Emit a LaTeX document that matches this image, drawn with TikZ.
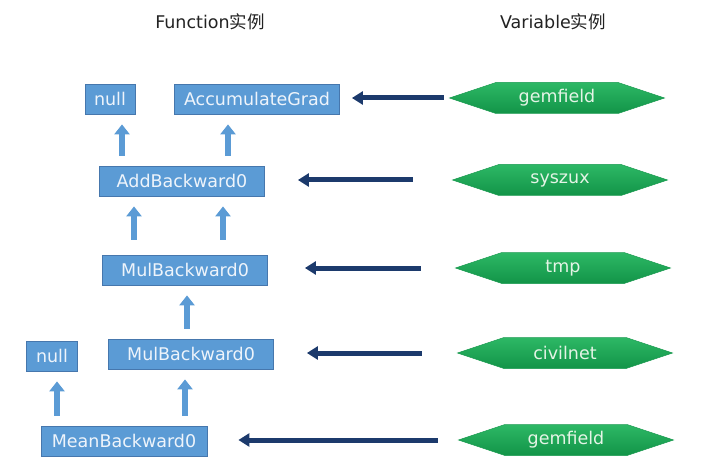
\documentclass[tikz,border=0pt]{standalone}
\usepackage{fontspec}
\setmainfont{DejaVu Sans}
\newfontfamily\cjk{Noto Sans CJK SC}
\usetikzlibrary{shapes.symbols,arrows.meta}
\definecolor{fnblue}{HTML}{5B9BD5}
\definecolor{fnedge}{HTML}{4677AD}
\definecolor{fntext}{HTML}{EEF4FB}
\definecolor{vartop}{HTML}{2DB865}
\definecolor{varbot}{HTML}{129448}
\definecolor{varedge}{HTML}{1A9A50}
\definecolor{vartext}{HTML}{E4F4E6}
\definecolor{navy}{HTML}{1C3A6C}
\definecolor{titlegray}{HTML}{222222}

\begin{document}
\begin{tikzpicture}[x=1pt,y=-1pt,
    fn/.style={shape=rectangle, fill=fnblue, draw=fnedge, line width=0.8pt, text=fntext,
        minimum height=30pt, inner sep=0pt, font=\fontsize{17.5}{20}\selectfont},
    var/.style={shape=signal, signal to=east and west, signal pointer angle=37,
        top color=vartop, bottom color=varbot, draw=varedge, line width=0.5pt,
        minimum width=215pt, minimum height=31pt, inner sep=0pt, text=vartext,
        font=\fontsize{17.5}{20}\selectfont},
    up/.style={draw=fnblue, line width=6.5pt, -{Triangle[width=15pt,length=10pt]},
        shorten <=10pt, shorten >=10pt},
    ref/.style={draw=navy, line width=5pt, -{Triangle[width=13pt,length=11pt]}}]
    \useasboundingbox (0,0) rectangle (720,473);
    \node[text=titlegray, font=\fontsize{17.5}{20}\selectfont] at (210,22) (fntitle) {Function{\cjk 实例}};
    \node[text=titlegray, font=\fontsize{17.5}{20}\selectfont] at (553,22) (vartitle) {Variable{\cjk 实例}};
    % function side
    \node[fn, minimum width=50pt] at (110,99) (nullA) {null};
    \node[fn, minimum width=165pt] at (257,99) (acc) {AccumulateGrad};
    \node[fn, minimum width=165pt] at (182,181) (add) {AddBackward0};
    \node[fn, minimum width=165pt] at (185,270) (mulA) {MulBackward0};
    \node[fn, minimum width=51pt] at (52,356) (nullB) {null};
    \node[fn, minimum width=165pt] at (191,354) (mulB) {MulBackward0};
    \node[fn, minimum width=166pt] at (124,441) (mean) {MeanBackward0};
    % variable side
    \node[var] at (557,98) (gem) {gemfield};
    \node[var] at (560,180) (sys) {syszux};
    \node[var] at (563,268) (tmp) {tmp};
    \node[var] at (565,353) (civ) {civilnet};
    \node[var] at (566,440) (gemB) {gemfield};
    % next functions
    \draw[up] ([xshift=-60pt]add.north) -- ([xshift=12pt]nullA.south);
    \draw[up] ([xshift=46pt]add.north) -- ([xshift=-29pt]acc.south);
    \draw[up, shorten <=15pt] ([xshift=-51pt]mulA.north) -- ([xshift=-48pt]add.south);
    \draw[up, shorten <=15pt] ([xshift=38pt]mulA.north) -- ([xshift=41pt]add.south);
    \draw[up] ([xshift=-4pt]mulB.north) -- ([xshift=2pt]mulA.south);
    \draw[up] ([xshift=-67pt]mean.north) -- ([xshift=5pt]nullB.south);
    \draw[up] ([xshift=61pt]mean.north) -- ([xshift=-6pt]mulB.south);
    % grad_fn
    \draw[ref, shorten <=5pt, shorten >=12pt] (gem.west) -- (acc.east |- gem.west);
    \draw[ref, shorten <=39pt, shorten >=33pt] (sys.west) -- (add.east |- sys.west);
    \draw[ref, shorten <=34pt, shorten >=37pt] (tmp.west) -- (mulA.east |- tmp.west);
    \draw[ref, shorten <=35pt, shorten >=33pt] (civ.west) -- (mulB.east |- civ.west);
    \draw[ref, shorten <=20pt, shorten >=31pt] (gemB.west) -- (mean.east |- gemB.west);
\end{tikzpicture}
\end{document}
